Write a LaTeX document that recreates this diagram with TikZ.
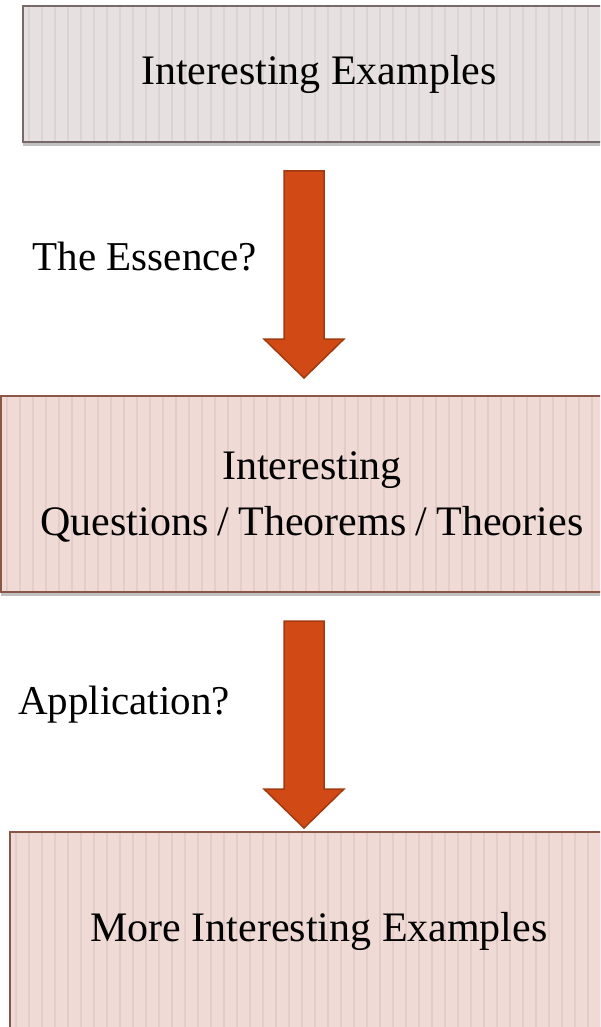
\documentclass[tikz,border=0pt]{standalone}
\usepackage{fontspec}
\setmainfont{Liberation Serif}
\usetikzlibrary{shadows}
\definecolor{fillA}{HTML}{E7E0E1}
\definecolor{stripeA}{HTML}{DCD3D4}
\definecolor{edgeA}{HTML}{786A6B}
\definecolor{fillB}{HTML}{EFDAD6}
\definecolor{stripeB}{HTML}{E4CDC8}
\definecolor{edgeB}{HTML}{8A5646}
\definecolor{arrowfill}{HTML}{D14915}
\definecolor{arrowedge}{HTML}{A23A10}
\tikzset{
  stripes/.style={path picture={
    \foreach \i in {0,...,50}
      \draw[#1,line width=1.4pt]
        ([xshift=\i*13pt+6pt]path picture bounding box.south west) --
        ([xshift=\i*13pt+6pt]path picture bounding box.north west);}},
  box/.style={rectangle, line width=2pt, inner sep=0pt, align=center,
    font=\fontsize{42}{58}\selectfont,
    drop shadow={shadow xshift=0pt,shadow yshift=-4pt,opacity=0.35,fill=black!70}},
  boxA/.style={box, fill=fillA, draw=edgeA, stripes=stripeA},
  boxB/.style={box, fill=fillB, draw=edgeB, stripes=stripeB},
  blockarrow/.style={fill=arrowfill, draw=arrowedge, line width=1.5pt, line join=miter},
  lbl/.style={inner sep=0pt, font=\fontsize{41}{48}\selectfont}
}
\begin{document}
\begin{tikzpicture}[x=1pt,y=-1pt]
\useasboundingbox (0,0) rectangle (600,1027);
\clip (0,0) rectangle (600,1027);

\node[boxA, minimum width=592pt, minimum height=136pt] (ex) at (319,74) {Interesting Examples};
\node[boxB, minimum width=622pt, minimum height=196pt] (qt) at (312,494) {};
\node[inner sep=0pt, align=center, font=\fontsize{42}{58}\selectfont] (qtxt) at (312,497) {Interesting\\[-2pt]Questions\hspace{0.22em}/\hspace{0.22em}Theorems\hspace{0.22em}/\hspace{0.22em}Theories};
\node[boxB, minimum width=618pt, minimum height=198pt] (more) at (319,931) {More Interesting Examples};

\path[blockarrow] (284,171) -- (324,171) -- (324,339) -- (344,339) -- (304,378) -- (264,339) -- (284,339) -- cycle;
\path[blockarrow] (284,621) -- (324,621) -- (324,789) -- (344,789) -- (304,828) -- (264,789) -- (284,789) -- cycle;

\node[lbl] (ess) at (145,257) {The Essence?};
\node[lbl] (app) at (124,705) {Application?};
\end{tikzpicture}
\end{document}
